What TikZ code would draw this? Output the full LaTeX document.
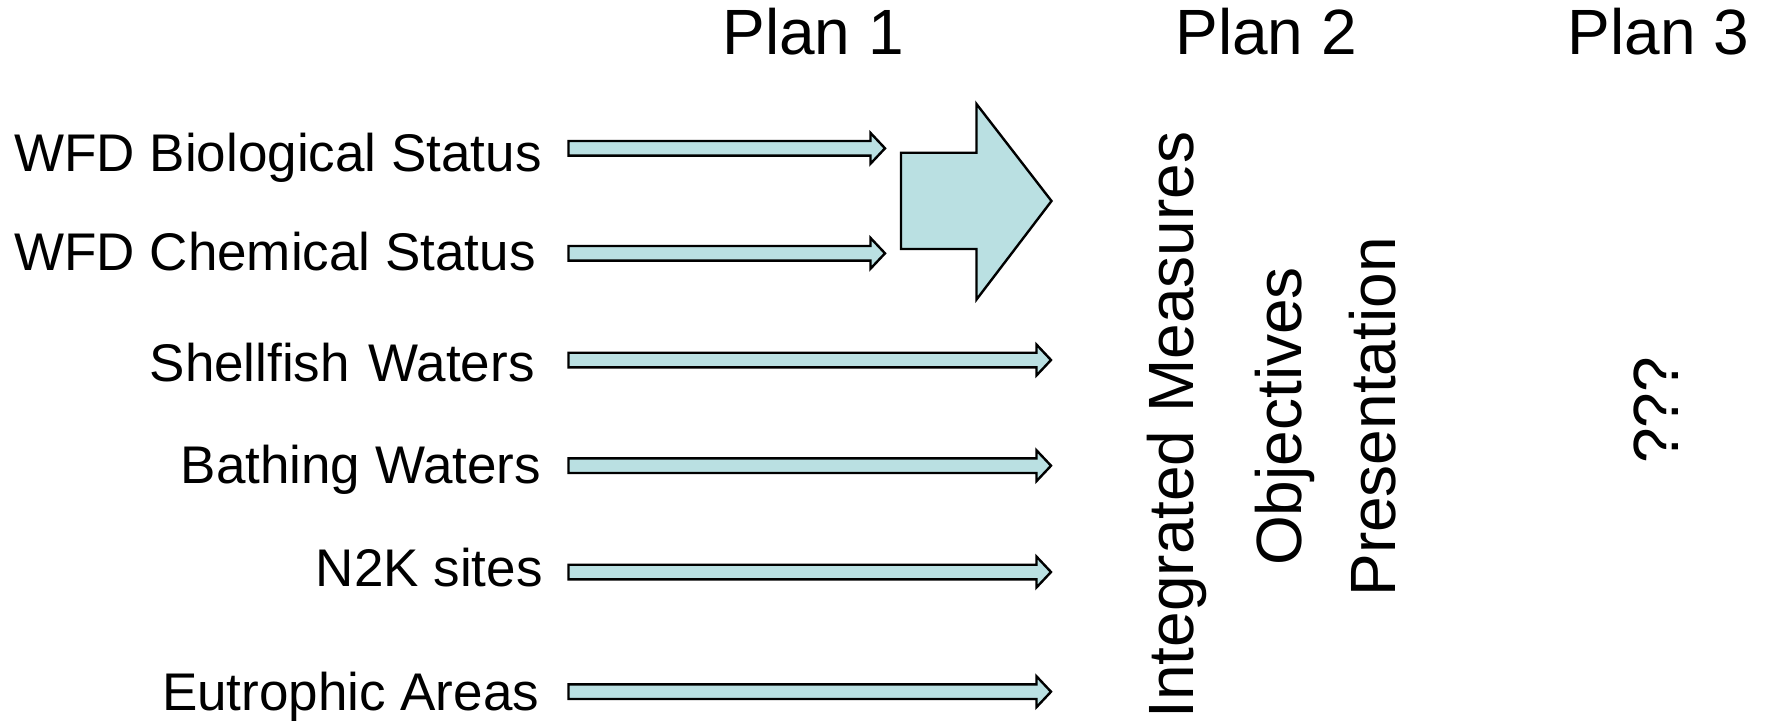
\documentclass[tikz,border=0pt]{standalone}
\usepackage{fontspec}
\setmainfont{Liberation Sans}
\definecolor{arrfill}{RGB}{186,224,226}
\newcommand\blockarr[4]{%
  \draw[blk] (#1,#4-7.3) -- (#2,#4-7.3) -- (#2,#4-15.4) -- (#3,#4)
    -- (#2,#4+15.4) -- (#2,#4+7.3) -- (#1,#4+7.3) -- cycle;}
\begin{document}
\begin{tikzpicture}[x=0.5pt,y=-0.5pt,
  lbl/.style={inner sep=0pt, font=\fontsize{26.5pt}{30pt}\selectfont},
  hdr/.style={inner sep=0pt, font=\fontsize{32pt}{36pt}\selectfont, anchor=base west},
  vtxt/.style={inner sep=0pt, font=\fontsize{32pt}{36pt}\selectfont, rotate=90, anchor=base west},
  blk/.style={draw=black, fill=arrfill, line width=1.2pt, line join=miter}]
\useasboundingbox (0,0) rectangle (1770,720);

% headers
\node[hdr] (plan1) at (722,54.5) {Plan 1};
\node[hdr] (plan2) at (1175,54.5) {Plan 2};
\node[hdr] (plan3) at (1567.5,54.5) {Plan 3};

% left labels
\node[lbl, anchor=base west] (bio)  at (14,171.7) {WFD Biological Status};
\node[lbl, anchor=base west] (chem) at (14,270.7) {WFD Chemical Status};
\node[lbl, anchor=base east] (shell) at (535,381.7) {Shellfish\ \kern2pt Waters};
\node[lbl, anchor=base east] (bath)  at (541.5,483.3) {Bathing Waters};
\node[lbl, anchor=base east] (n2k)   at (543,586.7) {N2K sites};
\node[lbl, anchor=base east] (eut)   at (539.5,710) {Eutrophic Areas};

% small arrows
\blockarr{568.5}{870.5}{885}{148.3}
\blockarr{568.5}{870.5}{885}{253.3}
\blockarr{568.5}{1036.5}{1051}{360}
\blockarr{568.5}{1036.5}{1051}{465.7}
\blockarr{568.5}{1036.5}{1051}{572}
\blockarr{568.5}{1036.5}{1051}{691.7}

% big arrow
\draw[blk] (901,152.7) -- (976.5,152.7) -- (976.5,104) -- (1051.5,201)
  -- (976.5,299.5) -- (976.5,249) -- (901,249) -- cycle;

% vertical texts
\node[vtxt] (integ) at (1193.3,719) {Integrated Measures};
\node[vtxt] (obj)   at (1301.5,566.3) {Objectives};
\node[vtxt] (pres)  at (1395.5,597) {Presentation};
\node[vtxt] (qqq)   at (1678,464) {???};
\end{tikzpicture}
\end{document}
